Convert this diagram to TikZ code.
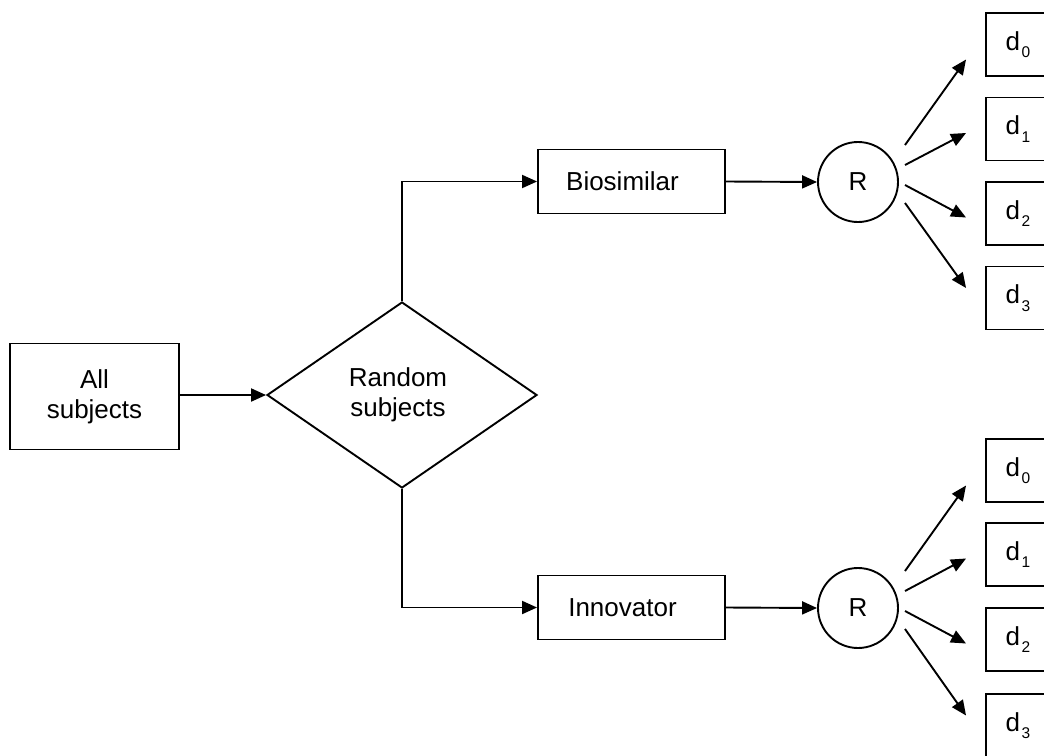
\documentclass[tikz,border=0pt]{standalone}
\usepackage{fontspec}
\setmainfont{Liberation Sans}
\usetikzlibrary{arrows.meta,shapes.geometric}
\newcommand{\dsub}[1]{d\kern1.5pt\raisebox{-7.5pt}{\fontsize{15.5}{15.5}\selectfont #1}}
\begin{document}
\begin{tikzpicture}[x=1pt,y=-1pt,
  every node/.style={font=\fontsize{26}{30}\selectfont, align=center},
  box/.style={draw, line width=1.9pt, inner sep=0pt},
  dbox/.style={box, minimum width=64pt, minimum height=63pt},
  arr/.style={line width=1.9pt, -{Triangle[length=15pt,width=13pt]}}]
\useasboundingbox (0,0) rectangle (1044,755);
\clip (0,0) rectangle (1044,755);
\node[box, minimum width=169pt, minimum height=106pt] (all) at (94.5,396.5) {All\\subjects};
\node[draw, line width=1.9pt, diamond, inner sep=0pt, minimum width=270pt, minimum height=186pt] (dia) at (402,395) {\hspace*{-8pt}Random\\\hspace*{-8pt}subjects};
\node[box, minimum width=187pt, minimum height=64pt] (bio) at (631.5,181.5) {\hspace*{-18pt}Biosimilar};
\node[box, minimum width=187pt, minimum height=64pt] (inn) at (631.5,607.5) {\hspace*{-18pt}Innovator};
\node[draw, circle, line width=1.9pt, minimum size=80pt, inner sep=0pt] (r1) at (858,182) {R};
\node[draw, circle, line width=1.9pt, minimum size=80pt, inner sep=0pt] (r2) at (858,608) {R};
\foreach \i/\y in {0/44.5,1/129,2/213.5,3/298}{
  \node[dbox] (a\i) at (1018,\y) {\dsub{\i}};
}
\foreach \i/\y in {0/470.5,1/554.5,2/639.5,3/725.5}{
  \node[dbox] (b\i) at (1018,\y) {\dsub{\i}};
}
\draw[arr] (all.east |- dia.west) -- (dia.west);
\draw[arr] (dia.north) |- (bio.west);
\draw[arr] (dia.south) |- (inn.west);
\draw[arr] (bio.east) -- (r1.west);
\draw[arr] (inn.east) -- (r2.west);
\foreach \r/\p in {r1/a, r2/b}{
  \draw[arr] ([shift={(47,-37)}]\r.center) -- ([shift={(-19,15)}]\p0.west);
  \draw[arr] ([shift={(47,-17)}]\r.center) -- ([shift={(-19,4)}]\p1.west);
  \draw[arr] ([shift={(47,3)}]\r.center) -- ([shift={(-19,4)}]\p2.west);
  \draw[arr] ([shift={(47,21)}]\r.center) -- ([shift={(-19,-10)}]\p3.west);
}
\end{tikzpicture}
\end{document}
